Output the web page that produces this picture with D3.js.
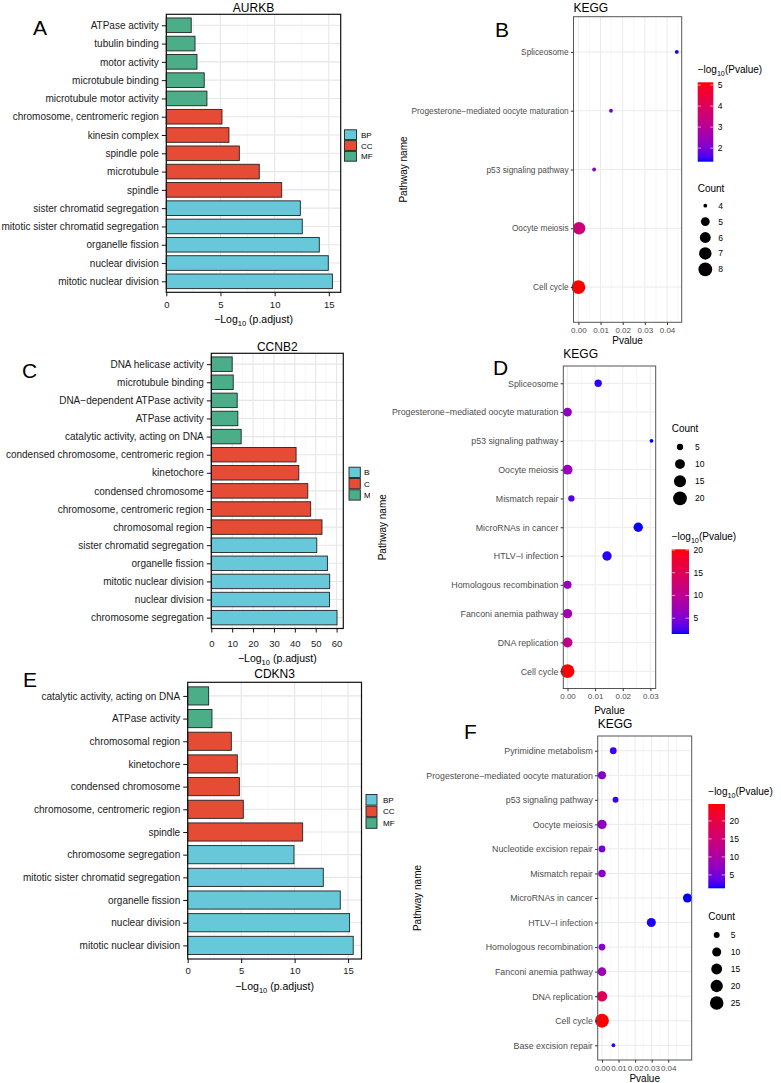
<!DOCTYPE html>
<html>
<head>
<meta charset="utf-8">
<script src="https://cdn.jsdelivr.net/npm/d3@7/dist/d3.min.js"></script>
<style>
html,body{margin:0;padding:0;background:#fff;}
svg{display:block;}
text{font-family:"Liberation Sans",Arial,Helvetica,sans-serif;}
</style>
</head>
<body>
<svg id="chart" width="781" height="1083"></svg>
<script>
// ---------------- DATA ----------------
const groupNames = ["BP", "CC", "MF"];
const groupColors = ["#66C8D8", "#E64B35", "#4BAE89"];

// Panel A (AURKB)
const aTerms = ["ATPase activity", "tubulin binding", "motor activity", "microtubule binding",
  "microtubule motor activity", "chromosome, centromeric region", "kinesin complex", "spindle pole",
  "microtubule", "spindle", "sister chromatid segregation", "mitotic sister chromatid segregation",
  "organelle fission", "nuclear division", "mitotic nuclear division"];
const aValues = [2.3, 2.65, 2.83, 3.5, 3.75, 5.14, 5.78, 6.74, 8.58, 10.65, 12.37, 12.55, 14.12, 14.95, 15.33];
const aGroups = ["MF", "MF", "MF", "MF", "MF", "CC", "CC", "CC", "CC", "CC", "BP", "BP", "BP", "BP", "BP"];
const aTicks = [0, 5, 10, 15];

// Panel C (CCNB2)
const cTerms = ["DNA helicase activity", "microtubule binding", "DNA\u2212dependent ATPase activity",
  "ATPase activity", "catalytic activity, acting on DNA", "condensed chromosome, centromeric region",
  "kinetochore", "condensed chromosome", "chromosome, centromeric region", "chromosomal region",
  "sister chromatid segregation", "organelle fission", "mitotic nuclear division", "nuclear division",
  "chromosome segregation"];
const cValues = [10.0, 10.5, 12.4, 12.7, 14.3, 40.6, 41.9, 46.2, 47.6, 53.0, 50.5, 55.6, 56.7, 56.6, 60.2];
const cGroups = ["MF", "MF", "MF", "MF", "MF", "CC", "CC", "CC", "CC", "CC", "BP", "BP", "BP", "BP", "BP"];
const cTicks = [0, 10, 20, 30, 40, 50, 60];

// Panel E (CDKN3)
const eTerms = ["catalytic activity, acting on DNA", "ATPase activity", "chromosomal region", "kinetochore",
  "condensed chromosome", "chromosome, centromeric region", "spindle", "chromosome segregation",
  "mitotic sister chromatid segregation", "organelle fission", "nuclear division", "mitotic nuclear division"];
const eValues = [1.96, 2.27, 4.08, 4.64, 4.83, 5.2, 10.75, 9.94, 12.68, 14.27, 15.14, 15.48];
const eGroups = ["MF", "MF", "CC", "CC", "CC", "CC", "CC", "BP", "BP", "BP", "BP", "BP"];
const eTicks = [0, 5, 10, 15];

// Panel B (KEGG)
const bTerms = ["Spliceosome", "Progesterone\u2212mediated oocyte maturation", "p53 signaling pathway",
  "Oocyte meiosis", "Cell cycle"];
const bPvalues = [0.0444, 0.0147, 0.0071, 0.0003, 0.0000074];
const bCounts = [4, 4, 4, 7, 8];
const bPTicks = [0, 0.01, 0.02, 0.03, 0.04];
const bColorTicks = [2, 3, 4, 5];
const bCountTicks = [4, 5, 6, 7, 8];

// Panel D (KEGG)
const dTerms = ["Spliceosome", "Progesterone\u2212mediated oocyte maturation", "p53 signaling pathway",
  "Oocyte meiosis", "Mismatch repair", "MicroRNAs in cancer", "HTLV\u2212I infection",
  "Homologous recombination", "Fanconi anemia pathway", "DNA replication", "Cell cycle"];
const dPvalues = [0.0111, 6.3e-7, 0.0304, 2e-7, 0.0014, 0.0256, 0.0143, 3e-7, 3e-8, 1.6e-11, 7e-21];
const dCounts = [6, 8, 4, 10, 5, 9, 9, 7, 9, 10, 20];
const dPTicks = [0, 0.01, 0.02, 0.03];
const dColorTicks = [5, 10, 15, 20];
const dCountTicks = [5, 10, 15, 20];

// Panel F (KEGG)
const fTerms = ["Pyrimidine metabolism", "Progesterone\u2212mediated oocyte maturation", "p53 signaling pathway",
  "Oocyte meiosis", "Nucleotide excision repair", "Mismatch repair", "MicroRNAs in cancer",
  "HTLV\u2212I infection", "Homologous recombination", "Fanconi anemia pathway", "DNA replication",
  "Cell cycle", "Base excision repair"];
const fPvalues = [0.0068, 1e-6, 0.0082, 8e-8, 1.6e-5, 4e-7, 0.0516, 0.0298, 6e-7, 5e-9, 2e-18, 2e-25, 0.0069];
const fCounts = [6, 8, 5, 11, 6, 7, 10, 10, 6, 9, 14, 26, 4];
const fPTicks = [0, 0.01, 0.02, 0.03, 0.04];
const fColorTicks = [5, 10, 15, 20];
const fCountTicks = [5, 10, 15, 20, 25];

// ---------------- DRAWING ----------------
const svg = d3.select("#chart");
const defs = svg.append("defs");
const fillScale = d3.scaleOrdinal().domain(groupNames).range(groupColors);

function subText(t, pre, sub, post, fs) {
  t.append("tspan").text(pre);
  t.append("tspan").text(sub).attr("font-size", fs * 0.72).attr("dy", fs * 0.32);
  t.append("tspan").text(post).attr("dy", -fs * 0.32);
}

function panelLetter(txt, x, y) {
  svg.append("text").attr("x", x).attr("y", y).text(txt)
    .attr("font-size", 21).style("font-family", "'Liberation Sans Narrow','Liberation Sans',Arial,sans-serif")
    .attr("fill", "#000");
}

function barChart(o) {
  const g = svg.append("g");
  const x = d3.scaleLinear().domain([0, d3.max(o.values) * 1.05]).range([o.x0, o.x1]);
  const y = d3.scalePoint().domain(o.terms).range([o.y0, o.y1]).padding(0.6);
  const bh = y.step() * 0.8;
  const st = o.ticks[1] - o.ticks[0];
  const minor = d3.range(o.ticks[0] + st / 2, x.domain()[1], st);

  g.append("rect").attr("x", o.x0).attr("y", o.y0).attr("width", o.x1 - o.x0).attr("height", o.y1 - o.y0).attr("fill", "#fff");
  g.append("g").selectAll("line").data(minor).join("line")
    .attr("x1", d => x(d)).attr("x2", d => x(d)).attr("y1", o.y0).attr("y2", o.y1)
    .attr("stroke", "#F0F0F0").attr("stroke-width", 0.6);
  g.append("g").selectAll("line").data(o.ticks).join("line")
    .attr("x1", d => x(d)).attr("x2", d => x(d)).attr("y1", o.y0).attr("y2", o.y1)
    .attr("stroke", "#E6E6E6").attr("stroke-width", 1.1);
  g.append("g").selectAll("line").data(o.terms).join("line")
    .attr("x1", o.x0).attr("x2", o.x1).attr("y1", d => y(d)).attr("y2", d => y(d))
    .attr("stroke", "#E6E6E6").attr("stroke-width", 1.1);

  g.append("g").selectAll("rect").data(o.terms).join("rect")
    .attr("x", x(0)).attr("y", d => y(d) - bh / 2)
    .attr("width", (d, i) => x(o.values[i]) - x(0)).attr("height", bh)
    .attr("fill", (d, i) => fillScale(o.groups[i]))
    .attr("stroke", "#222").attr("stroke-width", 0.9);

  g.append("rect").attr("x", o.x0).attr("y", o.y0).attr("width", o.x1 - o.x0).attr("height", o.y1 - o.y0)
    .attr("fill", "none").attr("stroke", "#111").attr("stroke-width", 1.2);

  const ya = g.append("g").attr("transform", `translate(${o.x0},0)`)
    .call(d3.axisLeft(y).tickSize(4.5).tickPadding(3));
  ya.select(".domain").remove();
  ya.selectAll("line").attr("stroke", "#111").attr("stroke-width", 1);
  ya.selectAll("text").attr("font-size", 10).attr("fill", "#1a1a1a");

  const xa = g.append("g").attr("transform", `translate(0,${o.y1})`)
    .call(d3.axisBottom(x).tickValues(o.ticks).tickSize(4).tickPadding(o.tickPad).tickFormat(d3.format("d")));
  xa.select(".domain").remove();
  xa.selectAll("line").attr("stroke", "#111").attr("stroke-width", 1);
  xa.selectAll("text").attr("font-size", 9.5).attr("fill", "#1a1a1a");

  const xl = g.append("text").attr("x", (o.x0 + o.x1) / 2).attr("y", o.xlabY)
    .attr("text-anchor", "middle").attr("font-size", 10.5).attr("fill", "#000");
  subText(xl, "\u2212Log", "10", " (p.adjust)", 10.5);

  g.append("text").attr("x", (o.x0 + o.x1) / 2).attr("y", o.titleY).attr("text-anchor", "middle")
    .attr("font-size", 12).attr("fill", "#000").text(o.title);

  // legend
  const lg = g.append("g");
  if (o.legClip) {
    const cid = "clip" + o.title;
    defs.append("clipPath").attr("id", cid).append("rect").attr("x", 0).attr("y", 0).attr("width", o.legClip).attr("height", 1083);
    lg.attr("clip-path", `url(#${cid})`);
  }
  groupNames.forEach((gn, i) => {
    lg.append("rect").attr("x", o.legX).attr("y", o.legY + i * o.legH + 0.5)
      .attr("width", o.legW).attr("height", o.legH - 1)
      .attr("fill", fillScale(gn)).attr("stroke", "#222").attr("stroke-width", 0.9);
    lg.append("text").attr("x", o.legLabelX).attr("y", o.legY + i * o.legH + o.legH / 2 + 3)
      .attr("font-size", 8).attr("fill", "#000").text(gn);
  });
  panelLetter(o.letter, o.letterX, o.letterY);
}

function dotChart(o) {
  const g = svg.append("g");
  const L = o.pvals.map(p => -Math.log10(p));
  const pmin = d3.min(o.pvals), pmax = d3.max(o.pvals), R = pmax - pmin;
  const x = d3.scaleLinear().domain([pmin - 0.05 * R, pmax + 0.05 * R]).range([o.x0, o.x1]);
  const y = d3.scalePoint().domain(o.terms).range([o.y0, o.y1]).padding(0.6);
  const lmin = d3.min(L), lmax = d3.max(L);
  const col = d3.scaleLinear().domain([lmin, lmax]).range(["#0000FF", "#FF0000"]).interpolate(d3.interpolateLab);
  const cmin = d3.min(o.counts), cmax = d3.max(o.counts);
  const nrm = d3.scaleLinear().domain([cmin, cmax]);
  const sz = d3.scaleLinear().domain([0, 1]).range([1, 6]);
  const rad = c => (2.0 * sz(Math.sqrt(Math.max(0, nrm(c)))) + 1.8) / 2;

  const st = o.pticks[1] - o.pticks[0];
  const minor = d3.range(o.pticks[0] - st / 2, x.domain()[1], st).filter(v => v > x.domain()[0]);

  g.append("rect").attr("x", o.x0).attr("y", o.y0).attr("width", o.x1 - o.x0).attr("height", o.y1 - o.y0).attr("fill", "#fff");
  g.append("g").selectAll("line").data(minor).join("line")
    .attr("x1", d => x(d)).attr("x2", d => x(d)).attr("y1", o.y0).attr("y2", o.y1)
    .attr("stroke", "#F2F2F2").attr("stroke-width", 0.6);
  g.append("g").selectAll("line").data(o.pticks).join("line")
    .attr("x1", d => x(d)).attr("x2", d => x(d)).attr("y1", o.y0).attr("y2", o.y1)
    .attr("stroke", "#EBEBEB").attr("stroke-width", 1);
  g.append("g").selectAll("line").data(o.terms).join("line")
    .attr("x1", o.x0).attr("x2", o.x1).attr("y1", d => y(d)).attr("y2", d => y(d))
    .attr("stroke", "#EBEBEB").attr("stroke-width", 1);

  g.append("g").selectAll("circle").data(o.terms).join("circle")
    .attr("cx", (d, i) => x(o.pvals[i])).attr("cy", d => y(d))
    .attr("r", (d, i) => rad(o.counts[i]))
    .attr("fill", (d, i) => col(L[i]));

  g.append("rect").attr("x", o.x0).attr("y", o.y0).attr("width", o.x1 - o.x0).attr("height", o.y1 - o.y0)
    .attr("fill", "none").attr("stroke", "#555").attr("stroke-width", 1);

  const ya = g.append("g").attr("transform", `translate(${o.x0},0)`)
    .call(d3.axisLeft(y).tickSize(2.7).tickPadding(2.2));
  ya.select(".domain").remove();
  ya.selectAll("line").attr("stroke", "#333");
  ya.selectAll("text").attr("font-size", o.labFs).attr("fill", "#4D4D4D");

  const xa = g.append("g").attr("transform", `translate(0,${o.y1})`)
    .call(d3.axisBottom(x).tickValues(o.pticks).tickSize(2.7).tickPadding(2.6).tickFormat(d3.format(".2f")));
  xa.select(".domain").remove();
  xa.selectAll("line").attr("stroke", "#333");
  xa.selectAll("text").attr("font-size", 8).attr("fill", "#4D4D4D");

  g.append("text").attr("x", (o.x0 + o.x1) / 2).attr("y", o.xlabY).attr("text-anchor", "middle")
    .attr("font-size", 10).attr("fill", "#000").text("Pvalue");
  g.append("text").attr("transform", `translate(${o.ylabX},${(o.y0 + o.y1) / 2}) rotate(-90)`)
    .attr("text-anchor", "middle").attr("font-size", 10).attr("fill", "#000").text("Pathway name");
  g.append("text").attr("x", o.x0).attr("y", o.titleY).attr("font-size", 12).attr("fill", "#000").text("KEGG");

  // colour bar
  const gid = "grad" + o.id;
  const gr = defs.append("linearGradient").attr("id", gid).attr("x1", 0).attr("y1", 1).attr("x2", 0).attr("y2", 0);
  d3.range(0, 1.0001, 0.05).forEach(t => {
    gr.append("stop").attr("offset", t).attr("stop-color", col(lmin + t * (lmax - lmin)));
  });
  const cb = o.cb;
  const cy = d3.scaleLinear().domain([lmin, lmax]).range([cb.y1, cb.y0]);
  const ct = g.append("text").attr("x", cb.x).attr("y", cb.titleY).attr("font-size", 10).attr("fill", "#000");
  subText(ct, "\u2212log", "10", "(Pvalue)", 10);
  g.append("rect").attr("x", cb.x).attr("y", cb.y0).attr("width", cb.w).attr("height", cb.y1 - cb.y0)
    .attr("fill", `url(#${gid})`);
  o.cticks.forEach(v => {
    const yy = cy(v);
    g.append("line").attr("x1", cb.x).attr("x2", cb.x + cb.w * 0.2).attr("y1", yy).attr("y2", yy).attr("stroke", "#fff").attr("stroke-width", 0.6);
    g.append("line").attr("x1", cb.x + cb.w * 0.8).attr("x2", cb.x + cb.w).attr("y1", yy).attr("y2", yy).attr("stroke", "#fff").attr("stroke-width", 0.6);
    g.append("text").attr("x", cb.x + cb.w + 4.5).attr("y", yy + 3).attr("font-size", 8.5).attr("fill", "#000").text(v);
  });

  // size legend
  const sl = o.sl;
  g.append("text").attr("x", sl.titleX).attr("y", sl.titleY).attr("font-size", 10).attr("fill", "#000").text("Count");
  o.sticks.forEach((v, i) => {
    const yy = sl.y0 + i * sl.step;
    g.append("circle").attr("cx", sl.cx).attr("cy", yy).attr("r", rad(v)).attr("fill", "#000");
    g.append("text").attr("x", sl.labelX).attr("y", yy + 3).attr("font-size", 8.5).attr("fill", "#000").text(v);
  });
  panelLetter(o.letter, o.letterX, o.letterY);
}

barChart({ terms: aTerms, values: aValues, groups: aGroups, ticks: aTicks, title: "AURKB",
  x0: 166.3, x1: 340.7, y0: 14.3, y1: 292.3, tickPad: 4.5, xlabY: 322.5, titleY: 11.5,
  legX: 344.5, legY: 129.3, legW: 12, legH: 10.8, legLabelX: 361,
  letter: "A", letterX: 33, letterY: 35 });

barChart({ terms: cTerms, values: cValues, groups: cGroups, ticks: cTicks, title: "CCNB2",
  x0: 211.3, x1: 343.3, y0: 353.3, y1: 628.5, tickPad: 7.5, xlabY: 661.5, titleY: 351,
  legX: 349, legY: 466.7, legW: 11.3, legH: 11.3, legLabelX: 364, legClip: 370,
  letter: "C", letterX: 22, letterY: 378 });

barChart({ terms: eTerms, values: eValues, groups: eGroups, ticks: eTicks, title: "CDKN3",
  x0: 187.7, x1: 361.5, y0: 682.3, y1: 959, tickPad: 4.5, xlabY: 990, titleY: 678,
  legX: 366, legY: 794, legW: 11, legH: 11.6, legLabelX: 383,
  letter: "E", letterX: 23, letterY: 687 });

dotChart({ id: "B", terms: bTerms, pvals: bPvalues, counts: bCounts, pticks: bPTicks,
  cticks: bColorTicks, sticks: bCountTicks, labFs: 8.3,
  x0: 573.5, x1: 681.7, y0: 16.7, y1: 322.3, titleY: 11.5, xlabY: 344, ylabX: 407,
  cb: { x: 697.7, w: 15.6, y0: 82.3, y1: 161.7, titleY: 73 },
  sl: { titleX: 697.7, titleY: 191.5, cx: 705.3, y0: 205.7, step: 15.9, labelX: 718.3 },
  letter: "B", letterX: 495, letterY: 37 });

dotChart({ id: "D", terms: dTerms, pvals: dPvalues, counts: dCounts, pticks: dPTicks,
  cticks: dColorTicks, sticks: dCountTicks, labFs: 8.8,
  x0: 563.3, x1: 655.7, y0: 366, y1: 688.5, titleY: 358, xlabY: 714, ylabX: 386,
  cb: { x: 671.7, w: 17.3, y0: 549.3, y1: 634, titleY: 539.5 },
  sl: { titleX: 671.7, titleY: 432, cx: 680, y0: 447, step: 17.1, labelX: 695 },
  letter: "D", letterX: 493, letterY: 375 });

dotChart({ id: "F", terms: fTerms, pvals: fPvalues, counts: fCounts, pticks: fPTicks,
  cticks: fColorTicks, sticks: fCountTicks, labFs: 8.8,
  x0: 597.7, x1: 691.7, y0: 736, y1: 1060, titleY: 728, xlabY: 1082, ylabX: 420.5,
  cb: { x: 708.3, w: 16.7, y0: 804, y1: 888.3, titleY: 794.5 },
  sl: { titleX: 708.3, titleY: 920, cx: 716.7, y0: 935, step: 17, labelX: 730.7 },
  letter: "F", letterX: 464, letterY: 739 });
</script>
</body>
</html>
